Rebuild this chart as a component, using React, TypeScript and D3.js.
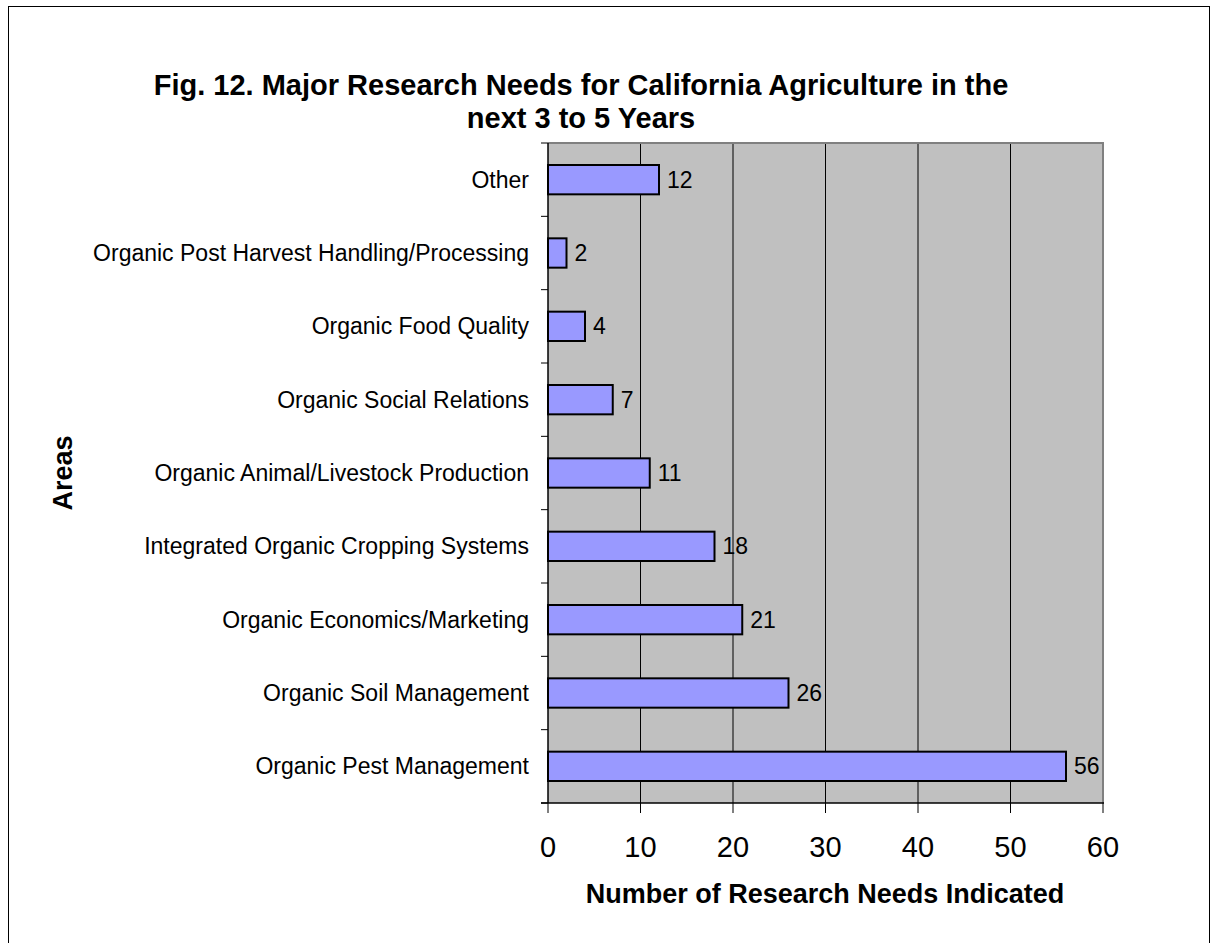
import React from "react";
import * as d3 from "d3";

const categories = [
  "Other",
  "Organic Post Harvest Handling/Processing",
  "Organic Food Quality",
  "Organic Social Relations",
  "Organic Animal/Livestock Production",
  "Integrated Organic Cropping Systems",
  "Organic Economics/Marketing",
  "Organic Soil Management",
  "Organic Pest Management",
];
const values = [12, 2, 4, 7, 11, 18, 21, 26, 56];
const xTicks = [0, 10, 20, 30, 40, 50, 60];
const titleLines = [
  "Fig. 12. Major Research Needs for California Agriculture in the",
  "next 3 to 5 Years",
];
const xTitle = "Number of Research Needs Indicated";
const yTitle = "Areas";

export default function App() {
  const W = 1211, H = 943;
  const left = 548, right = 1103, top = 143, bottom = 803;
  const x = d3.scaleLinear().domain([0, 60]).range([left, right]);
  const y = d3.scaleBand().domain(categories).range([top, bottom]).paddingInner(0.6).paddingOuter(0.3);
  const band = d3.scaleBand().domain(categories).range([top, bottom]);
  const font = "'Liberation Sans', Arial, sans-serif";
  return (
    <svg width={W} height={H} style={{ position: "absolute", left: 0, top: 0 }} fontFamily={font}>
      <rect x={0} y={0} width={W} height={H} fill="#fff" />
      <rect x={8.5} y={6.5} width={1201} height={1000} fill="none" stroke="#000" strokeWidth={1} />
      {titleLines.map((t, i) => (
        <text key={i} x={581} y={95 + i * 33} textAnchor="middle" fontSize={29} fontWeight="bold">{t}</text>
      ))}
      <rect x={left} y={top} width={right - left} height={bottom - top} fill="#C0C0C0" />
      {xTicks.slice(1, -1).map((t) => (
        <line key={t} x1={x(t)} x2={x(t)} y1={top} y2={bottom} stroke="#000" strokeWidth={1} />
      ))}
      <line x1={left} x2={right + 1} y1={top} y2={top} stroke="#808080" strokeWidth={2} />
      <line x1={right} x2={right} y1={top} y2={bottom} stroke="#808080" strokeWidth={2} />
      {categories.map((c, i) => (
        <g key={c}>
          <rect x={x(0)} y={y(c)!} width={x(values[i]) - x(0)} height={y.bandwidth()} fill="#9999FF" stroke="#000" strokeWidth={2} />
          <text x={x(values[i]) + 8} y={y(c)! + y.bandwidth() / 2 + 8} fontSize={23}>{values[i]}</text>
          <text x={529} y={y(c)! + y.bandwidth() / 2 + 8} textAnchor="end" fontSize={23}>{c}</text>
        </g>
      ))}
      {/* y axis */}
      <line x1={left} x2={left} y1={top} y2={bottom} stroke="#000" strokeWidth={1.5} />
      {[...categories.map((c) => band(c)!), bottom].map((v, i) => (
        <line key={i} x1={left - 7} x2={left} y1={v} y2={v} stroke="#000" strokeWidth={1} />
      ))}
      {/* x axis */}
      <line x1={left - 7} x2={right + 1} y1={bottom} y2={bottom} stroke="#000" strokeWidth={1.5} />
      {xTicks.map((t) => (
        <g key={t}>
          <line x1={x(t)} x2={x(t)} y1={bottom} y2={bottom + 10} stroke="#000" strokeWidth={1} />
          <text x={x(t)} y={857} textAnchor="middle" fontSize={29}>{t}</text>
        </g>
      ))}
      <text x={825} y={903} textAnchor="middle" fontSize={27} fontWeight="bold">{xTitle}</text>
      <text transform={`translate(72,473) rotate(-90)`} textAnchor="middle" fontSize={27} fontWeight="bold">{yTitle}</text>
    </svg>
  );
}
